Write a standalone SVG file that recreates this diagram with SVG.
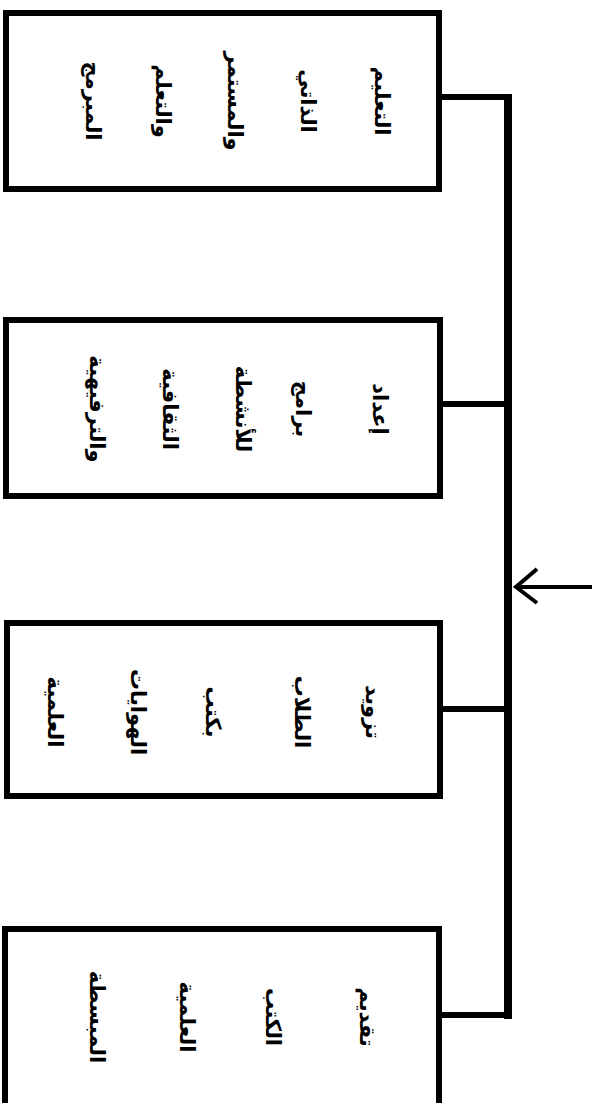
<svg xmlns="http://www.w3.org/2000/svg" width="592" height="1103" viewBox="0 0 592 1103">
<style>
.box{fill:#fff;stroke:#000;stroke-width:6}
.t{font-family:"DejaVu Sans","Noto Sans",sans-serif;font-size:21px;font-weight:bold;fill:#000;text-anchor:middle;dominant-baseline:central}
.c{fill:none;stroke:#000;stroke-width:6}
</style>
<rect width="592" height="1103" fill="#fff"/>
<g id="n1">
<rect class="box" x="6" y="13" width="433" height="176"/>
<text class="t" transform="translate(382,101) rotate(90)">التعليم</text>
<text class="t" transform="translate(308,101) rotate(90)">الذاتي</text>
<text class="t" transform="translate(235,101) rotate(90)">والمستمر</text>
<text class="t" transform="translate(163,101) rotate(90)">والتعلم</text>
<text class="t" transform="translate(93,101) rotate(90)">المبرمج</text>
</g>
<g id="n2">
<rect class="box" x="6" y="320" width="434" height="176"/>
<text class="t" transform="translate(380,409) rotate(90)">إعداد</text>
<text class="t" transform="translate(303,409) rotate(90)">برامج</text>
<text class="t" transform="translate(243,409) rotate(90)">للأنشطة</text>
<text class="t" transform="translate(170,409) rotate(90)">الثقافية</text>
<text class="t" transform="translate(97,409) rotate(90)">والترفيهية</text>
</g>
<g id="n3">
<rect class="box" x="7" y="623" width="433" height="173"/>
<text class="t" transform="translate(373,712) rotate(90)">تزويد</text>
<text class="t" transform="translate(302,712) rotate(90)">الطلاب</text>
<text class="t" transform="translate(213,712) rotate(90)">بكتب</text>
<text class="t" transform="translate(138,712) rotate(90)">الهوايات</text>
<text class="t" transform="translate(55,712) rotate(90)">العلمية</text>
</g>
<g id="n4">
<rect class="box" x="5" y="929" width="434" height="190"/>
<text class="t" transform="translate(367,1017) rotate(90)">تقديم</text>
<text class="t" transform="translate(273,1017) rotate(90)">الكتب</text>
<text class="t" transform="translate(187,1017) rotate(90)">العلمية</text>
<text class="t" transform="translate(97,1017) rotate(90)">المبسطة</text>
</g>
<g id="connectors">
<line class="c" x1="508" y1="94" x2="508" y2="1019" style="stroke-width:8"/>
<line class="c" x1="440" y1="97" x2="512" y2="97"/>
<line class="c" x1="440" y1="404" x2="508" y2="404"/>
<line class="c" x1="440" y1="709" x2="508" y2="709"/>
<line class="c" x1="440" y1="1015" x2="512" y2="1015"/>
<line class="c" x1="592" y1="587" x2="516" y2="587" style="stroke-width:4"/>
<polyline class="c" points="537,569 516,587 537,603" style="stroke-width:4"/>
</g>
</svg>
